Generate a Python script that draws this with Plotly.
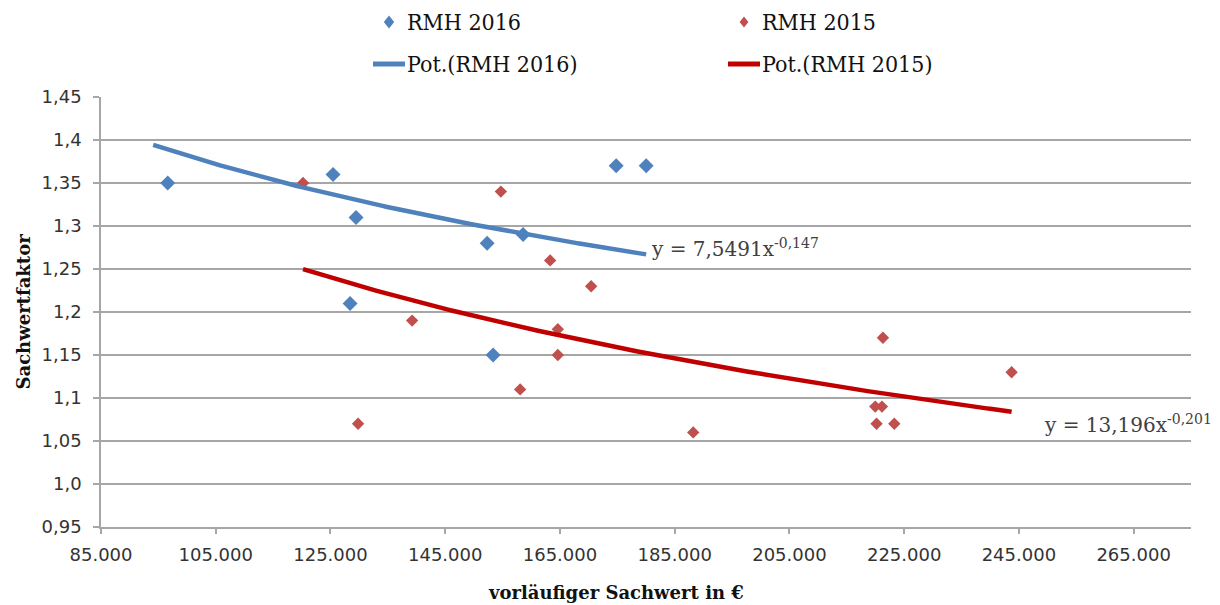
import numpy as np
import plotly.graph_objects as go

# Sample data: provisional asset value (EUR) vs. asset value factor
rmh2016_x = [96630, 125450, 129460, 128420, 152310, 158580, 153350, 174800, 180030]
rmh2016_y = [1.35, 1.36, 1.31, 1.21, 1.28, 1.29, 1.15, 1.37, 1.37]

rmh2015_x = [120220, 129810, 139230, 154700, 163290, 170440, 164630, 164630,
             158060, 188230, 221300, 243730, 219960, 221130, 220190, 223280]
rmh2015_y = [1.35, 1.07, 1.19, 1.34, 1.26, 1.23, 1.18, 1.15,
             1.11, 1.06, 1.17, 1.13, 1.09, 1.09, 1.07, 1.07]

# Power trendlines y = a * x^b and the x span they cover
fit2016 = {"a": 7.5491, "b": -0.14749}
fit2015 = {"a": 13.196, "b": -0.20149}
fit2016_span = [94100, 180030]
fit2015_span = [120220, 243730]

x_ticks = [85000, 105000, 125000, 145000, 165000, 185000, 205000, 225000, 245000, 265000]
x_tick_text = ["85.000", "105.000", "125.000", "145.000", "165.000",
               "185.000", "205.000", "225.000", "245.000", "265.000"]
y_ticks = [0.95, 1.0, 1.05, 1.1, 1.15, 1.2, 1.25, 1.3, 1.35, 1.4, 1.45]
y_tick_text = ["0,95", "1,0", "1,05", "1,1", "1,15", "1,2", "1,25", "1,3", "1,35", "1,4", "1,45"]

series_names = ["RMH 2016", "RMH 2015", "Pot.(RMH 2016)", "Pot.(RMH 2015)"]

BLUE = "#4f81bd"
RED_PT = "#c0504d"
RED_LINE = "#c00000"
GRID = "#a6a6a6"
W, H = 1220, 605
M_L, M_R, M_T, M_B = 101, 29, 97, 78
PLOT_W, PLOT_H = W - M_L - M_R, H - M_T - M_B


def px_x(px):
    return (px - M_L) / PLOT_W


def px_y(py):
    return (H - M_B - py) / PLOT_H


def power_curve(fit, span, n=200):
    xs = np.linspace(span[0], span[1], n)
    return xs, fit["a"] * xs ** fit["b"]


def eq_text(fit):
    a = f"{fit['a']:.5g}".replace(".", ",")
    b = f"{fit['b']:.3f}".replace(".", ",")
    return f"y = {a}x<sup>{b}</sup>"


fig = go.Figure()

fig.add_trace(go.Scatter(
    x=rmh2016_x, y=rmh2016_y, mode="markers", name=series_names[0],
    marker=dict(symbol="diamond", size=11.5, color=BLUE)))
fig.add_trace(go.Scatter(
    x=rmh2015_x, y=rmh2015_y, mode="markers", name=series_names[1],
    marker=dict(symbol="diamond", size=9.5, color=RED_PT)))

tx16, ty16 = power_curve(fit2016, fit2016_span)
tx15, ty15 = power_curve(fit2015, fit2015_span)
fig.add_trace(go.Scatter(
    x=tx16, y=ty16, mode="lines", name=series_names[2],
    line=dict(color=BLUE, width=4.5)))
fig.add_trace(go.Scatter(
    x=tx15, y=ty15, mode="lines", name=series_names[3],
    line=dict(color=RED_LINE, width=4.5)))

# Equation labels at the end of each trendline
eq_font = dict(family="DejaVu Serif", size=20, color="#404040")
fig.add_annotation(x=fit2016_span[1], y=fit2016["a"] * fit2016_span[1] ** fit2016["b"],
                   text=eq_text(fit2016), showarrow=False, xanchor="left", yanchor="middle",
                   xshift=3, yshift=6, font=eq_font)
fig.add_annotation(x=fit2015_span[1], y=fit2015["a"] * fit2015_span[1] ** fit2015["b"],
                   text=eq_text(fit2015), showarrow=False, xanchor="left", yanchor="middle",
                   xshift=30, yshift=-12, font=eq_font)

# Axis titles
title_font = dict(family="DejaVu Serif", size=18, color="#111111")
fig.add_annotation(xref="paper", yref="paper", x=0.4725, y=-0.152, text="<b>vorläufiger Sachwert in €</b>",
                   showarrow=False, xanchor="center", yanchor="middle", font=title_font)
fig.add_annotation(xref="paper", yref="paper", x=-0.072, y=0.5, text="<b>Sachwertfaktor</b>",
                   textangle=-90, showarrow=False, xanchor="center", yanchor="middle", font=title_font)

# Legend: 2 x 2 grid above the plot area (symbol centre x, text x, row y in px)
legend_font = dict(family="DejaVu Serif Condensed, DejaVu Serif", size=23, color="#111111")
legend_cols = [(389, 405), (744, 760)]
legend_rows = [22, 64]
legend_items = [
    (series_names[0], "diamond", BLUE, 0, 0, 6.5),
    (series_names[1], "diamond", RED_PT, 1, 0, 5.5),
    (series_names[2], "line", BLUE, 0, 1, 0),
    (series_names[3], "line", RED_LINE, 1, 1, 0),
]
for name, kind, color, col, row, r in legend_items:
    sx, tx = legend_cols[col]
    yc = legend_rows[row]
    if kind == "diamond":
        hw = r * 0.8
        fig.add_shape(type="path", xref="paper", yref="paper",
                      xsizemode="pixel", ysizemode="pixel",
                      xanchor=px_x(sx), yanchor=px_y(yc),
                      path=f"M 0 {r} L {hw} 0 L 0 {-r} L {-hw} 0 Z",
                      fillcolor=color, line=dict(width=0))
    else:
        fig.add_shape(type="line", xref="paper", yref="paper",
                      xsizemode="pixel", ysizemode="pixel",
                      xanchor=px_x(sx), yanchor=px_y(yc),
                      x0=-16, x1=16, y0=0, y1=0,
                      line=dict(color=color, width=5))
    fig.add_annotation(xref="paper", yref="paper", x=px_x(tx), y=px_y(yc),
                       text=name, showarrow=False, xanchor="left", yanchor="middle",
                       font=legend_font)

fig.update_layout(
    width=W, height=H,
    paper_bgcolor="white", plot_bgcolor="white",
    margin=dict(l=M_L, r=M_R, t=M_T, b=M_B),
    showlegend=False,
    xaxis=dict(range=[85000, 275000], tickvals=x_ticks, ticktext=x_tick_text,
               showgrid=False, zeroline=False, showline=True, linecolor=GRID, linewidth=1.5,
               ticks="outside", ticklen=5, tickcolor=GRID, tickwidth=1.5,
               tickfont=dict(family="DejaVu Sans", size=18, color="#333333"),
               ticklabelstandoff=6),
    yaxis=dict(range=[0.95, 1.45], tickvals=y_ticks, ticktext=y_tick_text,
               showgrid=True, gridcolor=GRID, gridwidth=1.5, zeroline=False,
               showline=True, linecolor=GRID, linewidth=1.5,
               ticks="outside", ticklen=6, tickcolor=GRID, tickwidth=1.5,
               tickfont=dict(family="DejaVu Sans", size=18, color="#333333"),
               ticklabelstandoff=8),
)

fig.write_html("out.html")
